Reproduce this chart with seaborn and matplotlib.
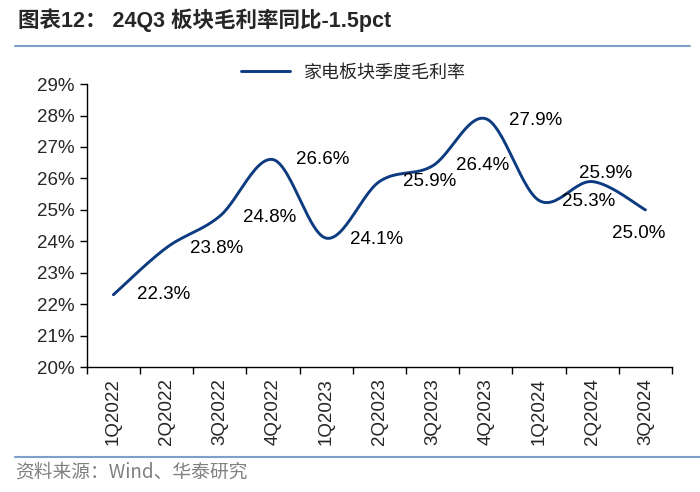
import numpy as np
import pandas as pd
import seaborn as sns
import matplotlib.pyplot as plt
from matplotlib.lines import Line2D

# data
quarters = ['1Q2022', '2Q2022', '3Q2022', '4Q2022', '1Q2023', '2Q2023',
            '3Q2023', '4Q2023', '1Q2024', '2Q2024', '3Q2024']
margin = [22.3, 23.8, 24.8, 26.6, 24.1, 25.9, 26.4, 27.9, 25.3, 25.9, 25.0]
series_name = '家电板块季度毛利率'
title = '图表12： 24Q3 板块毛利率同比-1.5pct'
source = '资料来源：Wind、华泰研究'

line_color = '#0d3b80'

sns.set_style('ticks')
plt.rcParams['font.family'] = ['Liberation Sans', 'Noto Sans CJK SC', 'DejaVu Sans']


def smooth(y, n=30):
    # Catmull-Rom style smoothing like Excel's "smoothed line"
    y = np.asarray(y, dtype=float)
    x = np.arange(len(y), dtype=float)
    px = np.concatenate([[x[0]], x, [x[-1]]])
    py = np.concatenate([[y[0]], y, [y[-1]]])
    xs, ys = [], []
    for i in range(1, len(px) - 2):
        p0, p1, p2, p3 = px[i - 1], px[i], px[i + 1], px[i + 2]
        q0, q1, q2, q3 = py[i - 1], py[i], py[i + 1], py[i + 2]
        c1x, c1y = p1 + (p2 - p0) / 6, q1 + (q2 - q0) / 6
        c2x, c2y = p2 - (p3 - p1) / 6, q2 - (q3 - q1) / 6
        t = np.linspace(0, 1, n)
        b0, b1, b2, b3 = (1 - t) ** 3, 3 * (1 - t) ** 2 * t, 3 * (1 - t) * t ** 2, t ** 3
        xs.append(b0 * p1 + b1 * c1x + b2 * c2x + b3 * p2)
        ys.append(b0 * q1 + b1 * c1y + b2 * c2y + b3 * q2)
    return np.concatenate(xs), np.concatenate(ys)


sx, sy = smooth(margin)
curve = pd.DataFrame({'x': sx, 'y': sy})

fig = plt.figure(figsize=(7, 4.92), dpi=100)
ax = fig.add_axes([0.124, 0.254, 0.836, 0.575])

sns.lineplot(data=curve, x='x', y='y', sort=False, color=line_color, linewidth=2.1, ax=ax)

# data labels (offsets in points)
offsets = [(36, 0), (36, -1), (36, -1), (36, 0), (36, -1), (36, 0),
           (36, 0), (36, -1), (36, -1), (10, 6), (-5, -17)]
for i, v in enumerate(margin):
    ax.annotate(f'{v:.1f}%', (i, v), xytext=offsets[i], textcoords='offset points',
                ha='center', va='center', fontsize=13.5, color='black')

ax.set_xlim(-0.5, len(quarters) - 0.5)
ax.set_ylim(20, 29)
ax.set_yticks(np.arange(20, 30, 1))
ax.set_yticklabels([f'{v}%' for v in range(20, 30)], fontsize=13.5)
ax.set_xticks(np.arange(-0.5, len(quarters), 1))
ax.set_xticklabels([])
ax.set_xticks(np.arange(len(quarters)), minor=True)
ax.set_xticklabels(quarters, minor=True, rotation=90, fontsize=13.5)
ax.tick_params(axis='x', which='minor', length=0, pad=8)
ax.tick_params(axis='both', which='major', length=5, width=1, color='black')
ax.set_xlabel('')
ax.set_ylabel('')
for s in ['top', 'right']:
    ax.spines[s].set_visible(False)
for s in ['left', 'bottom']:
    ax.spines[s].set_color('black')
    ax.spines[s].set_linewidth(1)

handle = Line2D([0], [0], color=line_color, linewidth=2.1)
fig.legend([handle], [series_name], loc='center', bbox_to_anchor=(0.505, 0.852),
           frameon=False, handlelength=2.7,
           prop={'family': ['Noto Sans CJK SC'], 'size': 13})

fig.text(0.026, 0.958, title, fontsize=15.5, fontweight='bold', va='center', ha='left',
         family=['Liberation Sans', 'Noto Sans CJK SC'])
fig.add_artist(Line2D([0.021, 0.986], [0.906, 0.906], color='#7f9fc6', linewidth=1.5))
fig.add_artist(Line2D([0.021, 1.0], [0.071, 0.071], color='#7f9fc6', linewidth=1.5))
fig.text(0.022, 0.040, source, fontsize=13.5, color='#808080', va='center', ha='left',
         family=['Noto Sans CJK SC', 'Liberation Sans'])

fig.savefig('out.png', dpi=100)
